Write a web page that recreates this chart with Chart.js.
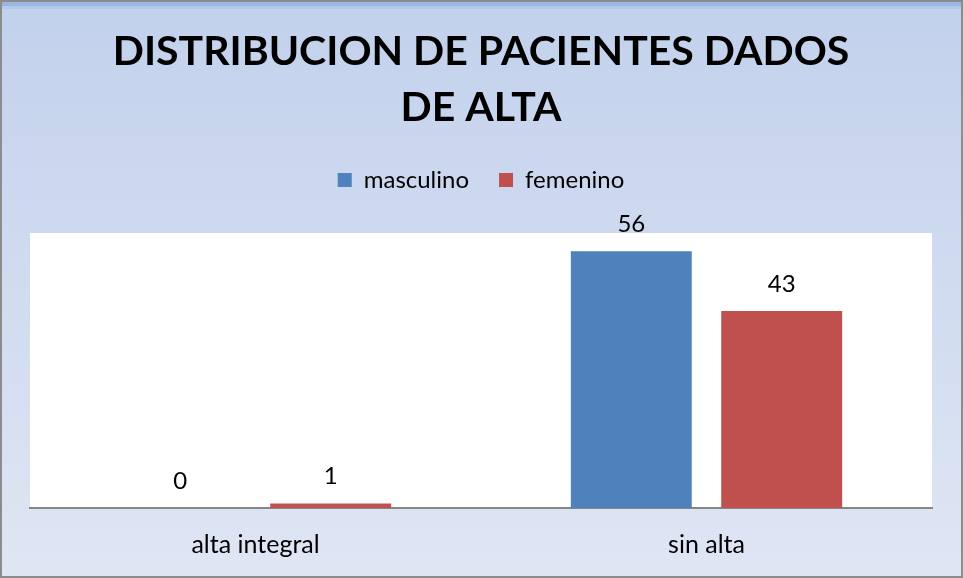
<!DOCTYPE html>
<html>
<head>
<meta charset="utf-8">
<script src="https://cdn.jsdelivr.net/npm/chart.js@4/dist/chart.umd.min.js"></script>
<style>
  html, body { margin: 0; padding: 0; background: #ffffff; }
  #wrap { width: 963px; height: 578px; position: relative; }
</style>
</head>
<body>
<div id="wrap"><canvas id="c" width="963" height="578"></canvas></div>
<script>
const categories = ["alta integral", "sin alta"];
const seriesNames = ["masculino", "femenino"];
const masculino = [0, 56];
const femenino = [1, 43];
const titleLines = ["DISTRIBUCION DE PACIENTES DADOS", "DE ALTA"];
const seriesColors = ["#4F81BD", "#C0504D"];

const FONT = "Lato, 'Open Sans', 'Liberation Sans', sans-serif";

const backgroundPlugin = {
  id: 'bg',
  beforeDraw(chart) {
    const ctx = chart.ctx;
    const w = chart.width, h = chart.height;
    ctx.save();
    const g = ctx.createLinearGradient(0, 0, 0, h);
    g.addColorStop(0, '#C2D1EC');
    g.addColorStop(1, '#DFE6F4');
    ctx.fillStyle = g;
    ctx.fillRect(0, 0, w, h);
    ctx.fillStyle = '#9CB6E2';
    ctx.fillRect(0, 2, w, 4);
    ctx.fillStyle = '#B4C8EA';
    ctx.fillRect(0, 6, w, 3);
    ctx.strokeStyle = '#8C8C8C';
    ctx.lineWidth = 2;
    ctx.strokeRect(1, 1, w - 2, h - 2);
    const a = chart.chartArea;
    ctx.fillStyle = '#FFFFFF';
    ctx.fillRect(a.left, a.top, a.right - a.left, a.bottom - a.top);
    ctx.restore();
  }
};

const valueLabelPlugin = {
  id: 'valueLabels',
  afterDatasetsDraw(chart) {
    const ctx = chart.ctx;
    ctx.save();
    ctx.font = "24px " + FONT;
    ctx.fillStyle = '#000000';
    ctx.textAlign = 'center';
    ctx.textBaseline = 'middle';
    chart.data.datasets.forEach((ds, i) => {
      const meta = chart.getDatasetMeta(i);
      meta.data.forEach((bar, j) => {
        ctx.fillText(String(ds.data[j]), bar.x, bar.y - 27);
      });
    });
    ctx.restore();
  }
};

new Chart(document.getElementById('c'), {
  type: 'bar',
  data: {
    labels: categories,
    datasets: [
      { label: seriesNames[0], data: masculino, backgroundColor: seriesColors[0] },
      { label: seriesNames[1], data: femenino, backgroundColor: seriesColors[1] }
    ]
  },
  options: {
    responsive: false,
    animation: false,
    devicePixelRatio: 1,
    categoryPercentage: 0.667,
    barPercentage: 0.804,
    layout: { padding: { top: 0, left: 30, right: 31, bottom: 14 } },
    plugins: {
      title: {
        display: true,
        text: titleLines,
        color: '#000000',
        font: { family: FONT, size: 41, weight: 'bold', lineHeight: '56px' },
        padding: { top: 24, bottom: 2 }
      },
      subtitle: {
        display: true,
        text: '',
        weight: 500,
        font: { size: 1, lineHeight: 1 },
        padding: { top: 30, bottom: 0 }
      },
      legend: {
        display: true,
        position: 'top',
        labels: {
          color: '#000000',
          font: { family: FONT, size: 24 },
          boxWidth: 14,
          boxHeight: 14,
          padding: 30
        }
      },
      tooltip: { enabled: false }
    },
    scales: {
      x: {
        grid: { display: false, drawTicks: true, tickLength: 18 },
        border: { display: true, color: '#868686', width: 2 },
        ticks: { color: '#000000', font: { family: FONT, size: 25, lineHeight: 1.2 }, padding: 4 }
      },
      y: {
        display: false,
        min: 0,
        max: 60
      }
    }
  },
  plugins: [backgroundPlugin, valueLabelPlugin]
});
</script>
</body>
</html>
